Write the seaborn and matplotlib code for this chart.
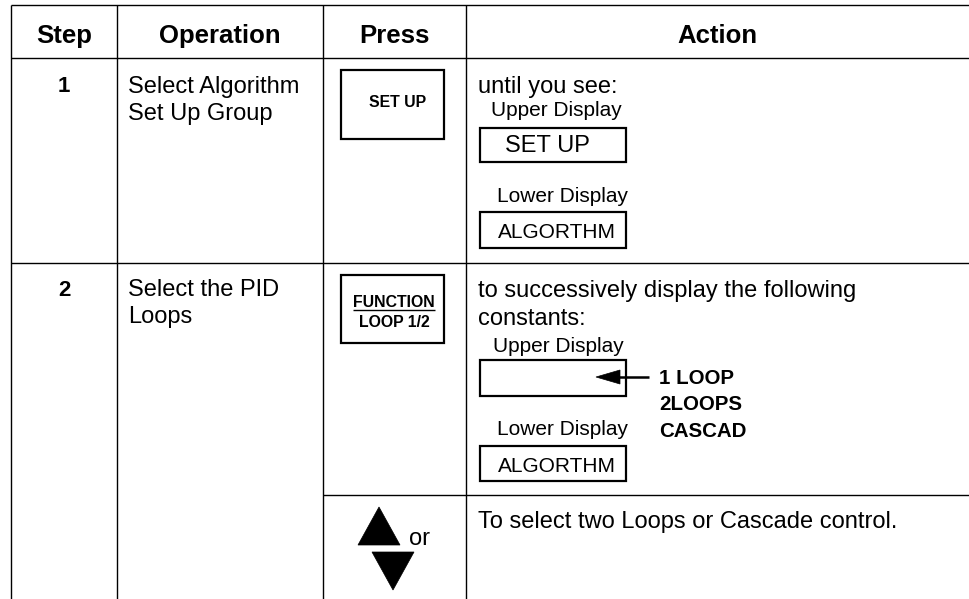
import matplotlib
matplotlib.use("Agg")
import matplotlib.pyplot as plt
from matplotlib.patches import Rectangle, Polygon
import seaborn as sns

# ---- content ----
headers = ["Step", "Operation", "Press", "Action"]
steps = ["1", "2"]
operations = [["Select Algorithm", "Set Up Group"], ["Select the PID", "Loops"]]
press_keys = [["SET UP"], ["FUNCTION", "LOOP 1/2"]]
action_intro = [["until you see:"], ["to successively display the following", "constants:"]]
display_labels = ["Upper Display", "Lower Display"]
upper_values = ["SET UP", ""]
lower_values = ["ALGORTHM", "ALGORTHM"]
loop_choices = ["1 LOOP", "2LOOPS", "CASCAD"]
arrow_note = "or"
final_action = "To select two Loops or Cascade control."

sns.set_theme(style="white")
FONT = ["Liberation Sans", "DejaVu Sans"]
plt.rcParams["font.family"] = FONT
plt.rcParams["text.color"] = "black"

W, H = 969, 599
fig = plt.figure(figsize=(W / 100, H / 100), dpi=100)
ax = fig.add_axes([0, 0, 1, 1])
ax.set_xlim(0, W)
ax.set_ylim(H, 0)
ax.axis("off")

LW = 1.0
K = "black"
# grid
col_x = [11, 117, 323, 466]
ax.hlines([5, 58, 263], 11, W + 5, color=K, lw=LW)
ax.hlines([495], 323, W + 5, color=K, lw=LW)
ax.vlines(col_x, 5, H + 5, color=K, lw=LW)

# headers
hx = [64, 220, 394, 717]
for t, x in zip(headers, hx):
    ax.text(x, 43, t, ha="center", va="baseline", fontsize=18.5, fontweight="bold")

# steps
for s, y in zip(steps, [92, 296]):
    ax.text(64, y, s, ha="center", va="baseline", fontsize=16, fontweight="bold")

# operations
for lines, y0 in zip(operations, [93, 296]):
    for i, t in enumerate(lines):
        ax.text(128, y0 + i * 27, t, ha="left", va="baseline", fontsize=17)

def box(x0, y0, x1, y1, lw=1.6):
    ax.add_patch(Rectangle((x0, y0), x1 - x0, y1 - y0, fill=False, ec=K, lw=lw))

# press keys
box(341, 70, 444, 139)
ax.text(398, 107, press_keys[0][0], ha="center", va="baseline", fontsize=11.4, fontweight="bold")
box(341, 275, 444, 343)
ax.text(394, 307, press_keys[1][0], ha="center", va="baseline", fontsize=11.4, fontweight="bold")
ax.hlines(310, 353, 435, color=K, lw=1.0)
ax.text(394, 327, press_keys[1][1], ha="center", va="baseline", fontsize=11.4, fontweight="bold")

# action intro
for lines, y0 in zip(action_intro, [93, 297]):
    for i, t in enumerate(lines):
        ax.text(478, y0 + i * 28, t, ha="left", va="baseline", fontsize=17)

# row 1 displays
ax.text(491, 116, display_labels[0], ha="left", va="baseline", fontsize=15)
box(480, 128, 626, 162)
ax.text(547, 152, upper_values[0], ha="center", va="baseline", fontsize=17)
ax.text(497, 202, display_labels[1], ha="left", va="baseline", fontsize=15)
box(480, 212, 626, 248)
ax.text(557, 238, lower_values[0], ha="center", va="baseline", fontsize=15)

# row 2 displays
ax.text(493, 352, display_labels[0], ha="left", va="baseline", fontsize=15)
box(480, 360, 626, 396)
ax.text(497, 435, display_labels[1], ha="left", va="baseline", fontsize=15)
box(480, 446, 626, 481)
ax.text(557, 472, lower_values[1], ha="center", va="baseline", fontsize=15)

# arrow into upper display
ax.hlines(377, 615, 649, color=K, lw=1.8)
ax.add_patch(Polygon([(596, 377), (620, 370), (620, 384)], closed=True, fc=K, ec=K, lw=0.5))
for i, t in enumerate(loop_choices):
    ax.text(659, 384 + i * 26.5, t, ha="left", va="baseline", fontsize=14.8, fontweight="bold")

# up / down triangles
ax.add_patch(Polygon([(358, 545), (400, 545), (379, 507)], closed=True, fc=K, ec=K, lw=0.5))
ax.add_patch(Polygon([(372, 552), (414, 552), (393, 590)], closed=True, fc=K, ec=K, lw=0.5))
ax.text(409, 545, arrow_note, ha="left", va="baseline", fontsize=17)

ax.text(478, 528, final_action, ha="left", va="baseline", fontsize=17)

fig.savefig("out.png", dpi=100)
